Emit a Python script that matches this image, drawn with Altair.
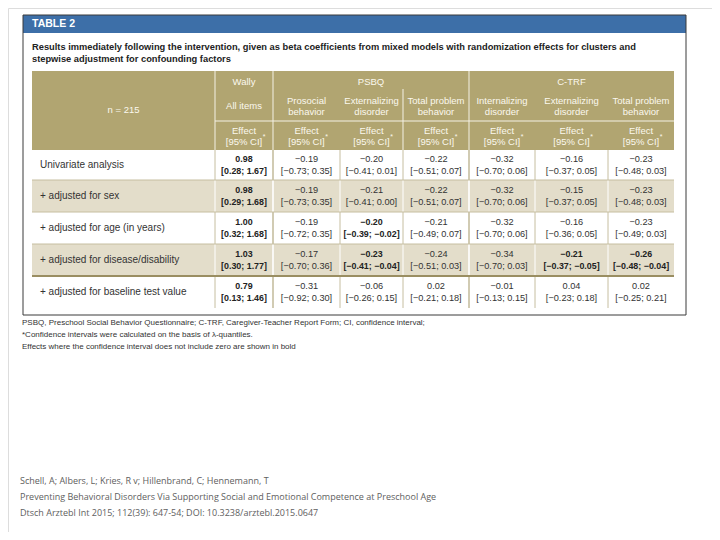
import altair as alt
import pandas as pd

# ---------------- data ----------------
table_tag = "TABLE 2"
title_lines = [
    "Results immediately following the intervention, given as beta coefficients from mixed models with randomization effects for clusters and",
    "stepwise adjustment for confounding factors",
]
sample_label = "n = 215"
instruments = ["Wally", "PSBQ", "C-TRF"]
col_instrument = ["Wally", "PSBQ", "PSBQ", "PSBQ", "C-TRF", "C-TRF", "C-TRF"]
subheaders = [
    ["All items"],
    ["Prosocial", "behavior"],
    ["Externalizing", "disorder"],
    ["Total problem", "behavior"],
    ["Internalizing", "disorder"],
    ["Externalizing", "disorder"],
    ["Total problem", "behavior"],
]
effect_head = ["Effect", "[95% CI]"]
row_labels = [
    "Univariate analysis",
    "+ adjusted for sex",
    "+ adjusted for age (in years)",
    "+ adjusted for disease/disability",
    "+ adjusted for baseline test value",
]

wally_eff = [0.98, 0.98, 1.00, 1.03, 0.79]
wally_lo = [0.28, 0.29, 0.32, 0.30, 0.13]
wally_hi = [1.67, 1.68, 1.68, 1.77, 1.46]

psbq_pro_eff = [-0.19, -0.19, -0.19, -0.17, -0.31]
psbq_pro_lo = [-0.73, -0.73, -0.72, -0.70, -0.92]
psbq_pro_hi = [0.35, 0.35, 0.35, 0.36, 0.30]

psbq_ext_eff = [-0.20, -0.21, -0.20, -0.23, -0.06]
psbq_ext_lo = [-0.41, -0.41, -0.39, -0.41, -0.26]
psbq_ext_hi = [0.01, 0.00, -0.02, -0.04, 0.15]

psbq_tot_eff = [-0.22, -0.22, -0.21, -0.24, 0.02]
psbq_tot_lo = [-0.51, -0.51, -0.49, -0.51, -0.21]
psbq_tot_hi = [0.07, 0.07, 0.07, 0.03, 0.18]

ctrf_int_eff = [-0.32, -0.32, -0.32, -0.34, -0.01]
ctrf_int_lo = [-0.70, -0.70, -0.70, -0.70, -0.13]
ctrf_int_hi = [0.06, 0.06, 0.06, 0.03, 0.15]

ctrf_ext_eff = [-0.16, -0.15, -0.16, -0.21, 0.04]
ctrf_ext_lo = [-0.37, -0.37, -0.36, -0.37, -0.23]
ctrf_ext_hi = [0.05, 0.05, 0.05, -0.05, 0.18]

ctrf_tot_eff = [-0.23, -0.23, -0.23, -0.26, 0.02]
ctrf_tot_lo = [-0.48, -0.48, -0.49, -0.48, -0.25]
ctrf_tot_hi = [0.03, 0.03, 0.03, -0.04, 0.21]

footnotes = [
    "PSBQ, Preschool Social Behavior Questionnaire; C-TRF, Caregiver-Teacher Report Form; CI, confidence interval;",
    "*Confidence intervals were calculated on the basis of \u03bb-quantiles.",
    "Effects where the confidence interval does not include zero are shown in bold",
]
citation = [
    "Schell, A; Albers, L; Kries, R v; Hillenbrand, C; Hennemann, T",
    "Preventing Behavioral Disorders Via Supporting Social and Emotional Competence at Preschool Age",
    "Dtsch Arztebl Int 2015; 112(39): 647-54; DOI: 10.3238/arztebl.2015.0647",
]

# ---------------- layout ----------------
col_edges = [32, 215, 273, 340, 403, 469, 535, 608, 674]
row_edges = [150, 180, 212, 244, 276, 308]
BOX = (23, 686, 15, 315)
BLUE = "#3d6fa8"
TAN = "#b1a571"
TAN_LIGHT = "#e3ddca"
SEP = "#c6bea0"
FONT = "Liberation Sans, Arial, sans-serif"


def fmt(v):
    s = f"{v:.2f}"
    return s.replace("-", "\u2212")


series = [
    (wally_eff, wally_lo, wally_hi),
    (psbq_pro_eff, psbq_pro_lo, psbq_pro_hi),
    (psbq_ext_eff, psbq_ext_lo, psbq_ext_hi),
    (psbq_tot_eff, psbq_tot_lo, psbq_tot_hi),
    (ctrf_int_eff, ctrf_int_lo, ctrf_int_hi),
    (ctrf_ext_eff, ctrf_ext_lo, ctrf_ext_hi),
    (ctrf_tot_eff, ctrf_tot_lo, ctrf_tot_hi),
]

col_centers = [(col_edges[i + 1] + col_edges[i + 2]) / 2 for i in range(7)]
row_centers = [(row_edges[i] + row_edges[i + 1]) / 2 for i in range(5)]

# rectangles
rects = [
    dict(x=BOX[0], x2=BOX[1], y=BOX[2], y2=33, fill=BLUE),
    dict(x=col_edges[0], x2=col_edges[-1], y=71, y2=row_edges[0], fill=TAN),
]
for i in range(5):
    if i % 2 == 1:
        rects.append(dict(x=col_edges[0], x2=col_edges[-1], y=row_edges[i], y2=row_edges[i + 1], fill=TAN_LIGHT))
rect_df = pd.DataFrame(rects)

# lines
lines = []
lines += [
    dict(x=BOX[0], x2=BOX[1], y=BOX[2], y2=BOX[2], c="#3a3a3a", w=1),
    dict(x=BOX[0], x2=BOX[1], y=BOX[3], y2=BOX[3], c="#3a3a3a", w=1),
    dict(x=BOX[0], x2=BOX[0], y=BOX[2], y2=BOX[3], c="#3a3a3a", w=1),
    dict(x=BOX[1], x2=BOX[1], y=BOX[2], y2=BOX[3], c="#3a3a3a", w=1),
]
for xe in [col_edges[1], col_edges[2], col_edges[5]]:
    lines.append(dict(x=xe, x2=xe, y=71, y2=row_edges[0], c="#f4f1e6", w=1))
lines.append(dict(x=col_edges[4], x2=col_edges[4], y=89, y2=row_edges[0], c="#f4f1e6", w=1))
lines.append(dict(x=col_edges[1], x2=col_edges[-1], y=121, y2=121, c="#f4f1e6", w=1))
for i in range(5):
    c = "#ffffff" if i % 2 == 1 else SEP
    for xe in col_edges[1:-1]:
        w = 1.6 if xe in (col_edges[2], col_edges[5]) else 1
        lines.append(dict(x=xe, x2=xe, y=row_edges[i], y2=row_edges[i + 1], c=c, w=w))
for k, ye in enumerate(row_edges[1:-1]):
    if k == 3:
        lines.append(dict(x=col_edges[0], x2=col_edges[-1], y=ye, y2=ye, c="#9a8e62", w=2))
    else:
        lines.append(dict(x=col_edges[0], x2=col_edges[-1], y=ye, y2=ye, c=SEP, w=1))
line_df = pd.DataFrame(lines)

# texts
head_txt = [dict(x=(col_edges[0] + col_edges[1]) / 2, y=110, t=sample_label)]
groups = {}
for j, inst in enumerate(col_instrument):
    groups.setdefault(inst, []).append(j)
for inst in instruments:
    js = groups[inst]
    xc = (col_edges[js[0] + 1] + col_edges[js[-1] + 2]) / 2
    head_txt.append(dict(x=xc, y=82, t=inst))
for j, sh in enumerate(subheaders):
    if len(sh) == 1:
        head_txt.append(dict(x=col_centers[j], y=106, t=sh[0]))
    else:
        head_txt.append(dict(x=col_centers[j], y=101, t=sh[0]))
        head_txt.append(dict(x=col_centers[j], y=112, t=sh[1]))
    head_txt.append(dict(x=col_centers[j], y=131, t=effect_head[0]))
    head_txt.append(dict(x=col_centers[j], y=142, t=effect_head[1]))
head_df = pd.DataFrame(head_txt)
star_df = pd.DataFrame([dict(x=c + 20, y=137, t="*") for c in col_centers])

cells = []
for j, (eff, lo, hi) in enumerate(series):
    for i in range(5):
        bold = (lo[i] > 0 and hi[i] > 0) or (lo[i] < 0 and hi[i] < 0)
        cells.append(dict(x=col_centers[j], y=row_centers[i] - 6, t=fmt(eff[i]), b=bold))
        cells.append(dict(x=col_centers[j], y=row_centers[i] + 6, t=f"[{fmt(lo[i])}; {fmt(hi[i])}]", b=bold))
cell_df = pd.DataFrame(cells)

label_df = pd.DataFrame([dict(x=40, y=row_centers[i], t=row_labels[i]) for i in range(5)])
title_df = pd.DataFrame([dict(x=32, y=47 + 12 * k, t=s) for k, s in enumerate(title_lines)])
tag_df = pd.DataFrame([dict(x=32, y=24, t=table_tag)])
foot_df = pd.DataFrame([dict(x=22, y=323 + 12 * k, t=s) for k, s in enumerate(footnotes)])
cite_df = pd.DataFrame([dict(x=20, y=481 + 16 * k, t=s) for k, s in enumerate(citation)])

# ---------------- chart ----------------
XS = alt.Scale(domain=[8, 712], nice=False, zero=False)
YS = alt.Scale(domain=[8, 532], nice=False, zero=False, reverse=True)


def X(f="x"):
    return alt.X(f"{f}:Q", scale=XS, axis=None)


def Y(f="y"):
    return alt.Y(f"{f}:Q", scale=YS, axis=None)


rect_layer = alt.Chart(rect_df).mark_rect().encode(
    x=X(), x2="x2:Q", y=Y(), y2="y2:Q", color=alt.Color("fill:N", scale=None)
)
line_layer = alt.Chart(line_df).mark_rule().encode(
    x=X(), x2="x2:Q", y=Y(), y2="y2:Q",
    color=alt.Color("c:N", scale=None), strokeWidth=alt.StrokeWidth("w:Q", scale=None),
)


def text_layer(df, **kw):
    base = dict(font=FONT, baseline="middle")
    base.update(kw)
    return alt.Chart(df).mark_text(**base).encode(x=X(), y=Y(), text="t:N")


layers = [
    rect_layer,
    line_layer,
    text_layer(tag_df, align="left", fontSize=10.5, fontWeight="bold", color="white"),
    text_layer(title_df, align="left", fontSize=9.3, fontWeight="bold", color="#222222"),
    text_layer(head_df, align="center", fontSize=9.5, color="#fbf8ee"),
    text_layer(star_df, align="center", fontSize=7, color="#fbf8ee"),
    text_layer(cell_df[~cell_df.b], align="center", fontSize=9.2, color="#333333"),
    text_layer(cell_df[cell_df.b], align="center", fontSize=8.9, fontWeight="bold", color="#222222"),
    text_layer(label_df, align="left", fontSize=10, color="#333333"),
    text_layer(foot_df, align="left", fontSize=8, color="#333333"),
    text_layer(cite_df, align="left", fontSize=9, color="#606060", font="Open Sans, sans-serif"),
]

chart = alt.layer(*layers).properties(
    width=704, height=524, padding=0, autosize=alt.AutoSizeParams(type="none")
).configure_view(stroke=None).configure(background="white")

chart.save("out.html", embed_options={"renderer": "svg", "actions": False})
